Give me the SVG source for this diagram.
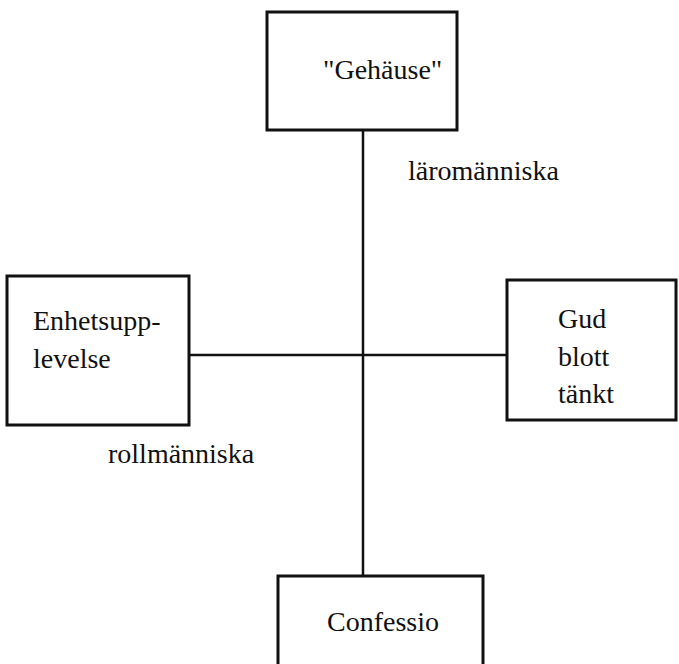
<svg xmlns="http://www.w3.org/2000/svg" width="679" height="664" viewBox="0 0 679 664">
<style>
.box{fill:#fff;stroke:#111;stroke-width:3}
.ln{stroke:#111;stroke-width:2.5;fill:none}
text{font-family:"Liberation Serif","Times New Roman",serif;font-size:28px;fill:#111}
</style>
<rect width="679" height="664" fill="#fff"/>
<g id="connectors">
<line class="ln" x1="363" y1="130" x2="363" y2="577"/>
<line class="ln" x1="189" y1="355" x2="507" y2="355"/>
</g>
<g id="gehaeuse">
<rect class="box" x="267" y="12" width="190" height="118"/>
<text x="323" y="79">"Gehäuse"</text>
</g>
<g id="enhet">
<rect class="box" x="7" y="276" width="182" height="149"/>
<text x="33" y="330">Enhetsupp-</text>
<text x="33" y="368">levelse</text>
</g>
<g id="gud">
<rect class="box" x="507" y="280" width="169" height="140"/>
<text x="558" y="328">Gud</text>
<text x="558" y="366">blott</text>
<text x="558" y="403">tänkt</text>
</g>
<g id="confessio">
<rect class="box" x="278" y="576" width="205" height="100"/>
<text x="327" y="631">Confessio</text>
</g>
<g id="labels">
<text x="408" y="180">läromänniska</text>
<text x="108" y="463">rollmänniska</text>
</g>
</svg>
